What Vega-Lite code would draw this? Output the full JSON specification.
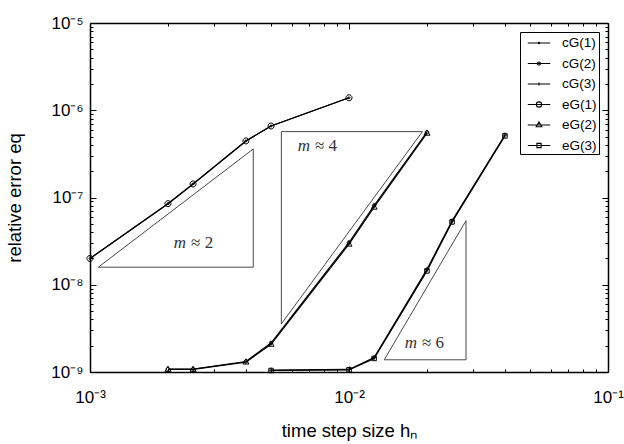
{
  "$schema": "https://vega.github.io/schema/vega-lite/v6.json",
  "width": 518,
  "height": 349,
  "autosize": {"type": "none"},
  "padding": {"left": 90, "top": 23, "right": 16, "bottom": 72},
  "background": "white",
  "config": {
    "view": {"stroke": null},
    "font": "Liberation Sans",
    "axis": {
      "domainColor": "black", "domainWidth": 1.5, "tickColor": "black", "tickWidth": 1,
      "labelColor": "black", "titleColor": "black", "grid": false,
      "labelFont": "Liberation Sans", "titleFont": "Liberation Sans",
      "labelFontSize": 17, "titleFontSize": 18.5, "titleFontWeight": "normal",
      "labelOverlap": false, "labelFlush": false
    }
  },
  "datasets": {
    "series": [
      {"method": "cG(1)", "h": 0.001, "err": 2.0e-8},
      {"method": "cG(1)", "h": 0.002, "err": 8.5e-8},
      {"method": "cG(1)", "h": 0.0025, "err": 1.43e-7},
      {"method": "cG(1)", "h": 0.004, "err": 4.45e-7},
      {"method": "cG(1)", "h": 0.005, "err": 6.6e-7},
      {"method": "cG(1)", "h": 0.01, "err": 1.39e-6},
      {"method": "cG(2)", "h": 0.002, "err": 1.08e-9},
      {"method": "cG(2)", "h": 0.0025, "err": 1.08e-9},
      {"method": "cG(2)", "h": 0.004, "err": 1.32e-9},
      {"method": "cG(2)", "h": 0.005, "err": 2.15e-9},
      {"method": "cG(2)", "h": 0.01, "err": 3.05e-8},
      {"method": "cG(2)", "h": 0.0125, "err": 8.1e-8},
      {"method": "cG(2)", "h": 0.02, "err": 5.6e-7},
      {"method": "cG(3)", "h": 0.005, "err": 1.05e-9},
      {"method": "cG(3)", "h": 0.01, "err": 1.07e-9},
      {"method": "cG(3)", "h": 0.0125, "err": 1.46e-9},
      {"method": "cG(3)", "h": 0.02, "err": 1.5e-8},
      {"method": "cG(3)", "h": 0.025, "err": 5.4e-8},
      {"method": "cG(3)", "h": 0.04, "err": 5.2e-7},
      {"method": "eG(1)", "h": 0.001, "err": 2.0e-8},
      {"method": "eG(1)", "h": 0.002, "err": 8.5e-8},
      {"method": "eG(1)", "h": 0.0025, "err": 1.43e-7},
      {"method": "eG(1)", "h": 0.004, "err": 4.45e-7},
      {"method": "eG(1)", "h": 0.005, "err": 6.6e-7},
      {"method": "eG(1)", "h": 0.01, "err": 1.39e-6},
      {"method": "eG(2)", "h": 0.002, "err": 1.07e-9},
      {"method": "eG(2)", "h": 0.0025, "err": 1.07e-9},
      {"method": "eG(2)", "h": 0.004, "err": 1.3e-9},
      {"method": "eG(2)", "h": 0.005, "err": 2.08e-9},
      {"method": "eG(2)", "h": 0.01, "err": 2.92e-8},
      {"method": "eG(2)", "h": 0.0125, "err": 7.75e-8},
      {"method": "eG(2)", "h": 0.02, "err": 5.45e-7},
      {"method": "eG(3)", "h": 0.005, "err": 1.04e-9},
      {"method": "eG(3)", "h": 0.01, "err": 1.06e-9},
      {"method": "eG(3)", "h": 0.0125, "err": 1.43e-9},
      {"method": "eG(3)", "h": 0.02, "err": 1.44e-8},
      {"method": "eG(3)", "h": 0.025, "err": 5.25e-8},
      {"method": "eG(3)", "h": 0.04, "err": 5.08e-7}
    ],
    "slopes": [
      {"tri": "m2", "k": 0, "h": 0.001077, "err": 1.59e-8},
      {"tri": "m2", "k": 1, "h": 0.00427, "err": 1.59e-8},
      {"tri": "m2", "k": 2, "h": 0.00427, "err": 3.6e-7},
      {"tri": "m2", "k": 3, "h": 0.001077, "err": 1.59e-8},
      {"tri": "m4", "k": 0, "h": 0.00548, "err": 5.69e-7},
      {"tri": "m4", "k": 1, "h": 0.0192, "err": 5.69e-7},
      {"tri": "m4", "k": 2, "h": 0.00548, "err": 3.56e-9},
      {"tri": "m4", "k": 3, "h": 0.00548, "err": 5.69e-7},
      {"tri": "m6", "k": 0, "h": 0.01368, "err": 1.38e-9},
      {"tri": "m6", "k": 1, "h": 0.0283, "err": 1.38e-9},
      {"tri": "m6", "k": 2, "h": 0.0283, "err": 5.43e-8},
      {"tri": "m6", "k": 3, "h": 0.01368, "err": 1.38e-9}
    ],
    "notes": [
      {"h": 0.00235, "err": 3.0e-8, "m": "m", "rest": "≈ 2"},
      {"h": 0.00707, "err": 3.9e-7, "m": "m", "rest": "≈ 4"},
      {"h": 0.0183, "err": 2.16e-9, "m": "m", "rest": "≈ 6"}
    ]
  },
  "layer": [
    {
      "data": {"name": "series"},
      "mark": {"type": "line", "color": "black", "strokeWidth": 1.2},
      "encoding": {
        "x": {
          "field": "h", "type": "quantitative",
          "scale": {"type": "log", "domain": [0.001, 0.1], "nice": false},
          "axis": {
            "orient": "bottom",
            "values": [0.001, 0.002, 0.003, 0.004, 0.005, 0.006, 0.007, 0.008, 0.009, 0.01, 0.02, 0.03, 0.04, 0.05, 0.06, 0.07, 0.08, 0.09, 0.1],
            "labelExpr": "abs(log(datum.value)/LN10 - round(log(datum.value)/LN10)) < 0.001 ? '10⁻' + ['⁰','¹','²','³','⁴','⁵','⁶','⁷','⁸','⁹'][-round(log(datum.value)/LN10)] : ''",
            "tickSize": {"condition": {"test": "abs(log(datum.value)/LN10 - round(log(datum.value)/LN10)) < 0.001", "value": -6}, "value": -3},
            "labelPadding": 23,
            "title": "time step size hₙ",
            "titlePadding": 13
          }
        },
        "y": {
          "field": "err", "type": "quantitative",
          "scale": {"type": "log", "domain": [1e-9, 1e-5], "nice": false},
          "axis": {
            "orient": "left",
            "values": [1e-9, 2e-9, 3e-9, 4e-9, 5e-9, 6e-9, 7e-9, 8e-9, 9e-9, 1e-8, 2e-8, 3e-8, 4e-8, 5e-8, 6e-8, 7e-8, 8e-8, 9e-8, 1e-7, 2e-7, 3e-7, 4e-7, 5e-7, 6e-7, 7e-7, 8e-7, 9e-7, 1e-6, 2e-6, 3e-6, 4e-6, 5e-6, 6e-6, 7e-6, 8e-6, 9e-6, 1e-5],
            "labelExpr": "abs(log(datum.value)/LN10 - round(log(datum.value)/LN10)) < 0.001 ? '10⁻' + ['⁰','¹','²','³','⁴','⁵','⁶','⁷','⁸','⁹'][-round(log(datum.value)/LN10)] : ''",
            "tickSize": {"condition": {"test": "abs(log(datum.value)/LN10 - round(log(datum.value)/LN10)) < 0.001", "value": -6}, "value": -3},
            "labelPadding": 13,
            "title": "relative error eq",
            "titlePadding": 26
          }
        },
        "detail": {"field": "method", "type": "nominal"}
      }
    },
    {
      "data": {"name": "series"},
      "mark": {"type": "point", "filled": false, "color": "black", "size": 100, "strokeWidth": 1, "opacity": 1},
      "encoding": {
        "x": {"field": "h", "type": "quantitative", "scale": {"type": "log", "domain": [0.001, 0.1], "nice": false}, "axis": null},
        "y": {"field": "err", "type": "quantitative", "scale": {"type": "log", "domain": [1e-9, 1e-5], "nice": false}, "axis": null},
        "shape": {
          "field": "method", "type": "nominal",
          "scale": {
            "domain": ["cG(1)", "cG(2)", "cG(3)", "eG(1)", "eG(2)", "eG(3)"],
            "range": [
              "M-0.2,0A0.2,0.2,0,1,1,0.2,0A0.2,0.2,0,1,1,-0.2,0Z",
              "M-0.35,0A0.35,0.35,0,1,1,0.35,0A0.35,0.35,0,1,1,-0.35,0Z",
              "M-0.5,0L0.5,0M0,-0.5L0,0.5",
              "M-0.6,0A0.6,0.6,0,1,1,0.6,0A0.6,0.6,0,1,1,-0.6,0Z",
              "M0,-0.65L0.6,0.4L-0.6,0.4Z",
              "M-0.45,-0.45L0.45,-0.45L0.45,0.45L-0.45,0.45Z"
            ]
          },
          "legend": null
        }
      }
    },
    {
      "data": {"name": "series"},
      "mark": {"type": "point", "filled": false, "color": "black", "size": 256, "strokeWidth": 1, "opacity": 0},
      "encoding": {
        "x": {"field": "h", "type": "quantitative", "scale": {"type": "log", "domain": [0.001, 0.1], "nice": false}, "axis": null},
        "y": {"field": "err", "type": "quantitative", "scale": {"type": "log", "domain": [1e-9, 1e-5], "nice": false}, "axis": null},
        "shape": {
          "field": "method", "type": "nominal",
          "scale": {
            "domain": ["cG(1)", "cG(2)", "cG(3)", "eG(1)", "eG(2)", "eG(3)"],
            "range": [
              "M-1.4,0L1.4,0M-0.08,0A0.08,0.08,0,1,1,0.08,0A0.08,0.08,0,1,1,-0.08,0Z",
              "M-1.4,0L1.4,0M-0.18,0A0.18,0.18,0,1,1,0.18,0A0.18,0.18,0,1,1,-0.18,0Z",
              "M-1.4,0L1.4,0M0,-0.2L0,0.2",
              "M-1.4,0L1.4,0M-0.33,0A0.33,0.33,0,1,1,0.33,0A0.33,0.33,0,1,1,-0.33,0Z",
              "M-1.4,0L1.4,0M0,-0.38L0.35,0.22L-0.35,0.22Z",
              "M-1.4,0L1.4,0M-0.26,-0.26L0.26,-0.26L0.26,0.26L-0.26,0.26Z"
            ]
          },
          "legend": {
            "title": null,
            "orient": "top-right",
            "offset": 9,
            "padding": 2,
            "strokeColor": "black",
            "fillColor": "white",
            "symbolSize": 256,
            "symbolStrokeWidth": 1.1,
            "symbolStrokeColor": "black",
            "symbolFillColor": "transparent",
            "symbolOpacity": 1,
            "symbolOffset": 8,
            "labelFont": "Liberation Sans",
            "labelFontSize": 13.5,
            "labelColor": "black",
            "labelOffset": 14,
            "rowPadding": 4.5
          }
        }
      }
    },
    {
      "data": {"name": "slopes"},
      "mark": {"type": "line", "color": "#333333", "strokeWidth": 0.9},
      "encoding": {
        "x": {
          "field": "h", "type": "quantitative",
          "scale": {"type": "log", "domain": [0.001, 0.1], "nice": false},
          "axis": {
            "orient": "top", "labels": false, "title": null,
            "values": [0.001, 0.002, 0.003, 0.004, 0.005, 0.006, 0.007, 0.008, 0.009, 0.01, 0.02, 0.03, 0.04, 0.05, 0.06, 0.07, 0.08, 0.09, 0.1],
            "tickSize": {"condition": {"test": "abs(log(datum.value)/LN10 - round(log(datum.value)/LN10)) < 0.001", "value": -6}, "value": -3}
          }
        },
        "y": {
          "field": "err", "type": "quantitative",
          "scale": {"type": "log", "domain": [1e-9, 1e-5], "nice": false},
          "axis": {
            "orient": "right", "labels": false, "title": null,
            "values": [1e-9, 2e-9, 3e-9, 4e-9, 5e-9, 6e-9, 7e-9, 8e-9, 9e-9, 1e-8, 2e-8, 3e-8, 4e-8, 5e-8, 6e-8, 7e-8, 8e-8, 9e-8, 1e-7, 2e-7, 3e-7, 4e-7, 5e-7, 6e-7, 7e-7, 8e-7, 9e-7, 1e-6, 2e-6, 3e-6, 4e-6, 5e-6, 6e-6, 7e-6, 8e-6, 9e-6, 1e-5],
            "tickSize": {"condition": {"test": "abs(log(datum.value)/LN10 - round(log(datum.value)/LN10)) < 0.001", "value": -6}, "value": -3}
          }
        },
        "detail": {"field": "tri", "type": "nominal"},
        "order": {"field": "k", "type": "quantitative"}
      }
    },
    {
      "data": {"name": "notes"},
      "mark": {"type": "text", "font": "Liberation Serif", "fontSize": 17, "fontStyle": "italic", "color": "#333333", "align": "right", "baseline": "middle"},
      "encoding": {
        "x": {"field": "h", "type": "quantitative", "scale": {"type": "log", "domain": [0.001, 0.1], "nice": false}, "axis": null},
        "y": {"field": "err", "type": "quantitative", "scale": {"type": "log", "domain": [1e-9, 1e-5], "nice": false}, "axis": null},
        "text": {"field": "m"}
      }
    },
    {
      "data": {"name": "notes"},
      "mark": {"type": "text", "font": "Liberation Serif", "fontSize": 17, "color": "#333333", "align": "left", "baseline": "middle", "dx": 5},
      "encoding": {
        "x": {"field": "h", "type": "quantitative", "scale": {"type": "log", "domain": [0.001, 0.1], "nice": false}, "axis": null},
        "y": {"field": "err", "type": "quantitative", "scale": {"type": "log", "domain": [1e-9, 1e-5], "nice": false}, "axis": null},
        "text": {"field": "rest"}
      }
    }
  ],
  "resolve": {
    "axis": {"x": "independent", "y": "independent"},
    "scale": {"shape": "independent"},
    "legend": {"shape": "independent"}
  }
}
